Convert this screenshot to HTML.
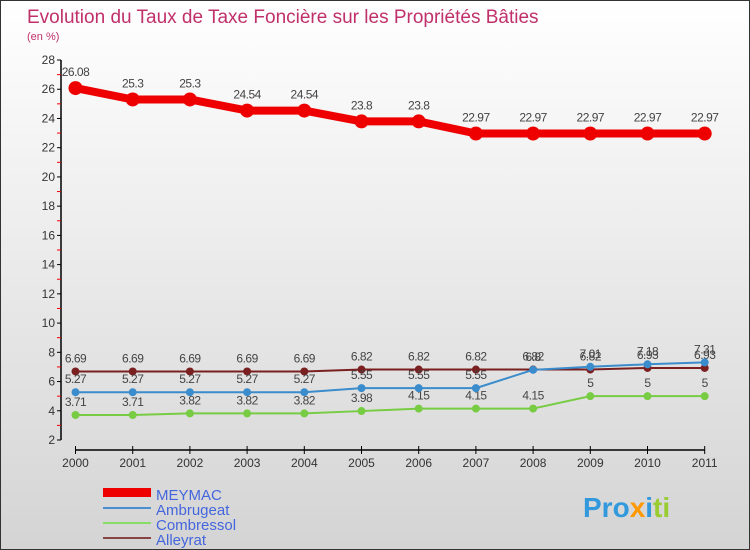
<!DOCTYPE html>
<html><head><meta charset="utf-8"><style>
body{margin:0;}
#c{position:relative;width:748px;height:548px;border:1px solid #333;background:linear-gradient(#ffffff,#d4d4d4);font-family:"Liberation Sans",sans-serif;overflow:hidden}
svg text{font-family:"Liberation Sans",sans-serif}
</style></head><body>
<div id="c">
<svg id="s" width="748" height="548" xmlns="http://www.w3.org/2000/svg">
<text x="26" y="22" font-size="19" fill="#c0306a">Evolution du Taux de Taxe Foncière sur les Propriétés Bâties</text>
<text x="26" y="39" font-size="11" fill="#c0306a">(en %)</text>
<g id="axes"></g><g id="series"></g>
<g>
<rect x="102" y="487" width="48" height="9" fill="#ee0000"/>
<text x="155" y="499" font-size="15" fill="#4466dd">MEYMAC</text>
<rect x="102" y="506" width="48" height="2" fill="#4a90d0"/>
<text x="155" y="514" font-size="15" fill="#4466dd">Ambrugeat</text>
<rect x="102" y="521" width="48" height="2" fill="#88dd66"/>
<text x="155" y="529" font-size="15" fill="#4466dd">Combressol</text>
<rect x="102" y="536" width="48" height="2" fill="#884444"/>
<text x="155" y="544" font-size="15" fill="#4466dd">Alleyrat</text>
</g>
<text x="582" y="516" font-size="28" font-weight="bold" fill="#3399dd">Pro<tspan fill="#ff9900">x</tspan>i<tspan fill="#99cc33">ti</tspan></text>
</svg>
</div>
<script>
const years=[2000,2001,2002,2003,2004,2005,2006,2007,2008,2009,2010,2011];
const meymac=[26.08,25.3,25.3,24.54,24.54,23.8,23.8,22.97,22.97,22.97,22.97,22.97];
const ambrugeat=[5.27,5.27,5.27,5.27,5.27,5.55,5.55,5.55,6.8,7.01,7.18,7.31];
const combressol=[3.71,3.71,3.82,3.82,3.82,3.98,4.15,4.15,4.15,5,5,5];
const alleyrat=[6.69,6.69,6.69,6.69,6.69,6.82,6.82,6.82,6.82,6.82,6.93,6.93];
const yTicks=[2,4,6,8,10,12,14,16,18,20,22,24,26,28];
const NS='http://www.w3.org/2000/svg';
const X=i=>74.5+i*57.2;
const Y=v=>439-(v-2)*14.615;
function mk(tag,attrs,parent){const e=document.createElementNS(NS,tag);for(const k in attrs)e.setAttribute(k,attrs[k]);parent.appendChild(e);return e;}
const ax=document.getElementById('axes');
const yl=mk('line',{x1:60,y1:Y(28),x2:60,y2:Y(2),stroke:'#000','stroke-width':1.5},ax);


yTicks.forEach(t=>{
 mk('line',{x1:56,y1:Y(t),x2:60,y2:Y(t),stroke:'#000'},ax);
 if(t<28) mk('line',{x1:56,y1:Y(t+1),x2:60,y2:Y(t+1),stroke:'#e00'},ax);
 const tx=mk('text',{x:54,y:Y(t)+4,'font-size':12,'text-anchor':'end',fill:'#333'},ax);
 tx.textContent=t;
 
 
});
const xl=mk('line',{x1:X(0),y1:449,x2:X(11),y2:449,stroke:'#000','stroke-width':1.5},ax);


years.forEach((yr,i)=>{
 mk('line',{x1:X(i),y1:445,x2:X(i),y2:453,stroke:'#000'},ax);
 const tx=mk('text',{x:X(i),y:466,'font-size':12,'text-anchor':'middle',fill:'#333'},ax);
 tx.textContent=yr;
 
 
});
const sg=document.getElementById('series');
function draw(name,vals,color,lw,r,fs){
 const g=mk('g',{},sg);
 
 
 const pl=mk('polyline',{points:vals.map((v,i)=>X(i)+','+Y(v)).join(' '),fill:'none',stroke:color,'stroke-width':lw,'stroke-linejoin':'round'},g);
 
 
 vals.forEach((v,i)=>{
  const c=mk('circle',{cx:X(i),cy:Y(v),r:r,fill:color},g);
  
  
  const t=mk('text',{x:X(i),y:Y(v)-(r+5),'font-size':fs,'text-anchor':'middle',fill:'#444','letter-spacing':'-0.5'},g);
  t.textContent=String(v);
  
  
 });
}
draw('alleyrat',alleyrat,'#7a2020',2,4,12);
draw('combressol',combressol,'#77cc44',2,4,12);
draw('ambrugeat',ambrugeat,'#3a8ccc',2,4,12);
draw('meymac',meymac,'#ee0000',8,7,12);
</script>
</body></html>
